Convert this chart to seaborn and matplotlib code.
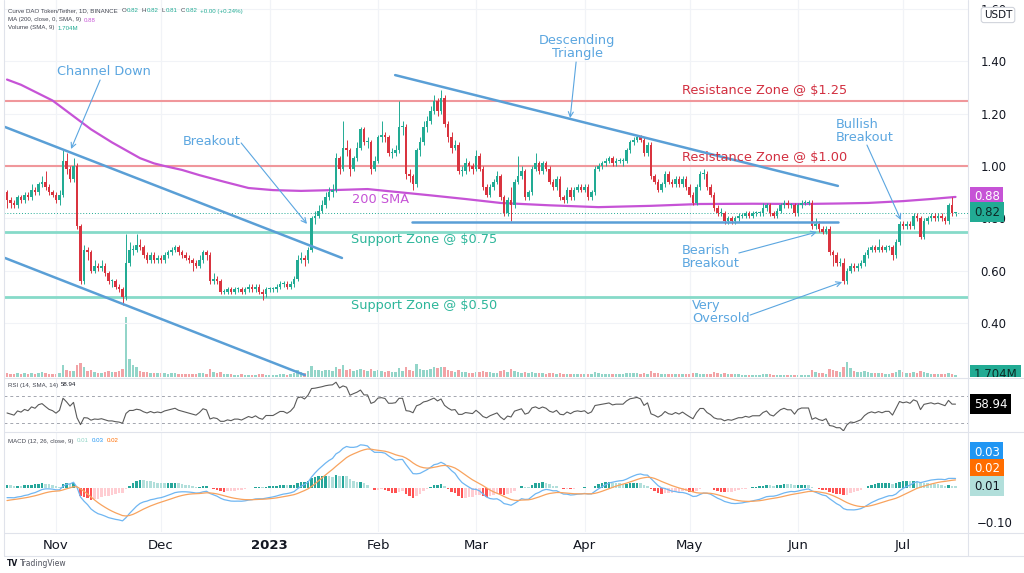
import numpy as np
import pandas as pd
import matplotlib
matplotlib.use("Agg")
import matplotlib.pyplot as plt
from matplotlib.lines import Line2D
import seaborn as sns

sns.set_theme(style="white")
plt.rcParams['font.family'] = ['DejaVu Sans']

# ---------------- data (daily candles, 18 Oct 2022 -> 16 Jul 2023) ----------------
first_open = 0.90
close = [
0.87,0.86,0.85,0.88,0.87,0.89,0.88,0.91,0.90,0.93,
0.94,0.92,0.90,0.89,0.87,0.89,1.02,0.99,0.95,1.00,
0.77,0.56,0.68,0.67,0.60,0.62,0.61,0.62,0.59,0.56,
0.56,0.54,0.53,0.50,0.63,0.68,0.68,0.70,0.69,0.66,
0.64,0.66,0.64,0.65,0.64,0.66,0.67,0.68,0.69,0.67,
0.66,0.65,0.64,0.63,0.62,0.64,0.67,0.66,0.56,0.57,
0.56,0.52,0.52,0.53,0.52,0.53,0.53,0.52,0.53,0.54,
0.53,0.54,0.52,0.51,0.53,0.53,0.53,0.54,0.55,0.55,
0.54,0.55,0.57,0.64,0.65,0.64,0.68,0.80,0.81,0.83,
0.85,0.88,0.90,0.91,1.03,0.99,1.07,1.06,0.99,1.03,
1.07,1.14,1.09,1.09,0.99,1.02,1.11,1.12,1.11,1.05,
1.05,1.06,1.15,1.15,0.97,0.96,0.93,1.06,1.09,1.15,
1.17,1.21,1.25,1.21,1.26,1.16,1.11,1.07,1.08,0.98,
0.98,1.01,1.00,0.99,1.04,0.99,0.92,0.89,0.92,0.94,
0.96,0.88,0.82,0.87,0.85,0.94,0.96,0.98,0.88,0.90,
0.99,1.01,0.98,1.01,0.99,0.94,0.92,0.95,0.88,0.87,
0.91,0.88,0.91,0.92,0.91,0.92,0.88,0.90,0.99,1.00,
1.01,1.02,1.03,1.01,1.02,1.02,1.02,1.06,1.09,1.10,
1.11,1.10,1.05,1.08,0.96,0.94,0.91,0.93,0.97,0.94,
0.93,0.95,0.93,0.95,0.92,0.89,0.86,0.92,0.97,0.97,
0.92,0.89,0.84,0.82,0.82,0.79,0.80,0.79,0.80,0.81,
0.81,0.82,0.81,0.82,0.82,0.82,0.84,0.85,0.82,0.81,
0.83,0.85,0.86,0.85,0.85,0.82,0.85,0.86,0.86,0.86,
0.77,0.78,0.76,0.75,0.76,0.67,0.66,0.63,0.63,0.56,
0.60,0.62,0.61,0.62,0.63,0.66,0.68,0.69,0.68,0.69,
0.68,0.69,0.69,0.66,0.71,0.78,0.77,0.78,0.77,0.81,
0.80,0.73,0.79,0.80,0.81,0.80,0.81,0.80,0.79,0.85,
0.82,0.82]
high = [
0.91,0.88,0.87,0.89,0.89,0.90,0.90,0.93,0.92,0.94,
0.96,0.98,0.93,0.91,0.90,0.91,1.06,1.05,1.00,1.03,
1.01,0.78,0.70,0.69,0.68,0.64,0.63,0.64,0.63,0.60,
0.57,0.57,0.55,0.54,0.74,0.71,0.70,0.74,0.72,0.70,
0.67,0.67,0.67,0.66,0.66,0.67,0.68,0.69,0.70,0.70,
0.68,0.67,0.66,0.65,0.64,0.66,0.68,0.68,0.67,0.59,
0.58,0.57,0.53,0.54,0.54,0.54,0.54,0.54,0.54,0.55,
0.55,0.55,0.55,0.53,0.54,0.54,0.54,0.55,0.56,0.56,
0.56,0.56,0.58,0.66,0.67,0.66,0.69,0.81,0.83,0.85,
0.87,0.90,0.92,0.93,1.05,1.04,1.17,1.10,1.07,1.04,
1.09,1.15,1.15,1.11,1.10,1.04,1.12,1.17,1.13,1.12,
1.07,1.08,1.25,1.17,1.16,0.99,0.97,1.07,1.11,1.17,
1.19,1.23,1.27,1.26,1.29,1.27,1.17,1.13,1.10,1.09,
1.00,1.03,1.02,1.01,1.06,1.05,1.00,0.93,0.93,0.95,
0.98,0.97,0.89,0.88,0.92,0.95,1.04,1.00,0.99,0.91,
1.00,1.05,1.02,1.02,1.02,1.00,0.95,0.96,0.96,0.89,
0.92,0.92,0.92,0.93,0.93,0.93,0.93,0.91,1.00,1.01,
1.02,1.03,1.04,1.04,1.03,1.03,1.03,1.07,1.10,1.11,
1.12,1.12,1.11,1.09,1.09,0.97,0.95,0.94,0.98,0.98,
0.95,0.96,0.96,0.96,0.96,0.93,0.90,0.93,0.98,0.99,
0.98,0.93,0.90,0.85,0.84,0.83,0.81,0.81,0.81,0.82,
0.82,0.83,0.83,0.83,0.83,0.83,0.86,0.86,0.86,0.83,
0.84,0.86,0.87,0.87,0.86,0.86,0.86,0.87,0.87,0.87,
0.87,0.80,0.79,0.77,0.77,0.77,0.68,0.67,0.65,0.65,
0.61,0.63,0.63,0.63,0.64,0.67,0.69,0.70,0.70,0.72,
0.70,0.70,0.70,0.70,0.72,0.79,0.79,0.79,0.79,0.82,
0.82,0.81,0.80,0.81,0.82,0.82,0.82,0.82,0.81,0.86,
0.88,0.82]
low = [
0.84,0.84,0.84,0.84,0.86,0.86,0.87,0.87,0.89,0.89,
0.92,0.91,0.89,0.88,0.86,0.85,0.88,0.97,0.94,0.94,
0.76,0.55,0.55,0.64,0.59,0.59,0.60,0.60,0.58,0.55,
0.54,0.53,0.52,0.47,0.49,0.62,0.66,0.67,0.68,0.65,
0.63,0.63,0.63,0.63,0.63,0.63,0.65,0.66,0.67,0.66,
0.65,0.64,0.63,0.60,0.61,0.61,0.63,0.64,0.55,0.55,
0.55,0.51,0.51,0.51,0.51,0.51,0.52,0.51,0.51,0.52,
0.52,0.52,0.51,0.49,0.50,0.52,0.52,0.52,0.53,0.54,
0.53,0.53,0.54,0.56,0.63,0.62,0.63,0.67,0.78,0.80,
0.82,0.84,0.87,0.88,0.90,0.97,0.98,1.04,0.96,0.98,
1.02,1.06,1.08,1.07,0.97,0.98,1.01,1.09,1.09,1.04,
1.03,1.04,1.05,1.12,0.95,0.94,0.91,0.92,1.04,1.08,
1.13,1.16,1.20,1.19,1.20,1.15,1.09,1.05,1.06,0.97,
0.96,0.97,0.98,0.97,0.98,0.98,0.91,0.88,0.88,0.91,
0.93,0.87,0.81,0.81,0.79,0.84,0.93,0.95,0.87,0.87,
0.89,0.98,0.97,0.97,0.98,0.93,0.91,0.91,0.87,0.86,
0.86,0.87,0.87,0.90,0.90,0.90,0.87,0.87,0.89,0.98,
0.99,1.00,1.01,1.00,1.00,1.01,1.00,1.01,1.05,1.08,
1.09,1.09,1.04,1.04,0.95,0.93,0.90,0.90,0.92,0.93,
0.92,0.92,0.92,0.92,0.91,0.88,0.85,0.85,0.91,0.95,
0.91,0.88,0.83,0.81,0.81,0.78,0.78,0.78,0.78,0.79,
0.80,0.80,0.80,0.80,0.81,0.81,0.81,0.83,0.81,0.80,
0.80,0.82,0.84,0.84,0.84,0.81,0.81,0.84,0.85,0.85,
0.76,0.76,0.75,0.74,0.74,0.66,0.62,0.62,0.62,0.55,
0.55,0.59,0.60,0.60,0.61,0.62,0.65,0.67,0.67,0.67,
0.67,0.67,0.68,0.64,0.65,0.70,0.76,0.76,0.76,0.76,
0.79,0.72,0.72,0.78,0.79,0.79,0.79,0.79,0.78,0.78,
0.81,0.81]
volume = [
4,3,3,4,3,4,3,4,3,4,
5,4,3,3,3,4,12,7,6,6,
12,14,10,6,7,5,4,4,5,6,
5,5,6,8,60,18,12,10,6,5,
5,4,4,4,4,4,3,4,4,3,
3,3,3,3,3,4,4,3,8,5,
4,5,3,3,3,2,2,3,2,2,
2,2,3,3,2,2,2,2,3,3,
2,3,4,7,5,4,6,11,7,7,
6,7,7,6,10,8,12,7,8,6,
7,8,7,6,8,6,7,6,5,6,
5,5,9,6,10,7,6,13,8,7,
7,8,10,9,10,10,7,6,5,7,
5,5,4,4,5,5,6,5,5,4,
4,6,7,5,8,6,5,4,5,4,
5,4,4,4,3,4,4,3,4,3,
3,3,3,3,3,3,3,3,5,4,
3,3,3,3,3,3,3,4,4,4,
4,3,4,3,6,4,4,3,3,3,
3,3,3,3,3,3,4,4,3,3,
3,3,5,4,3,4,3,3,3,3,
2,2,2,2,2,2,3,3,3,2,
2,2,2,2,2,2,2,2,2,2,
7,5,4,4,3,8,7,6,5,10,
15,9,6,5,5,6,5,4,4,4,
4,3,3,4,5,7,5,4,4,5,
4,6,5,4,3,3,3,3,3,4,
3,1.7]
sma_idx = [0, 4, 7, 10, 13, 16, 20, 24, 27, 30, 34, 38, 42, 45, 50, 55, 62, 69, 76, 84, 93,
           103, 112, 121, 131, 141, 155, 169, 184, 198, 213, 227, 238, 246, 256, 264, 271]
sma_val = [1.33, 1.31, 1.29, 1.27, 1.25, 1.22, 1.18, 1.14, 1.115, 1.09, 1.06, 1.03, 1.01, 1.00,
           0.985, 0.965, 0.94, 0.916, 0.908, 0.905, 0.908, 0.912, 0.90, 0.888, 0.874, 0.859,
           0.85, 0.843, 0.848, 0.855, 0.856, 0.855, 0.857, 0.859, 0.866, 0.874, 0.882]
month_pos = [14, 44, 75, 106, 134, 165, 195, 226, 256]
month_lab = ['Nov', 'Dec', '2023', 'Feb', 'Mar', 'Apr', 'May', 'Jun', 'Jul']
price_ticks = [0.4, 0.6, 0.8, 1.0, 1.2, 1.4, 1.6]
resistance = [1.25, 1.00]
support = [0.75, 0.50]
# indicator starting states (values before the first visible bar)
rsi_init = (0.010, 0.010)
macd_init = (0.89, 0.92, -0.04)

n = len(close)
assert len(high) == n and len(low) == n and len(volume) == n, (n, len(high), len(low), len(volume))

c = np.array(close, float)
o = np.r_[first_open, c[:-1]]
x = np.arange(n)

# RSI (14, Wilder)
ag, al = rsi_init
rsi = []
for d in np.diff(np.r_[first_open, c]):
    ag = (ag * 13 + max(d, 0)) / 14
    al = (al * 13 + max(-d, 0)) / 14
    rsi.append(100 - 100 / (1 + ag / al))
rsi = np.array(rsi)

# MACD (12, 26, 9)
e12, e26, sg = macd_init
macd, sig = [], []
for v in c:
    e12 += 2 / 13 * (v - e12)
    e26 += 2 / 27 * (v - e26)
    m = e12 - e26
    sg += 2 / 10 * (m - sg)
    macd.append(m); sig.append(sg)
macd = np.array(macd); sig = np.array(sig)
hist = macd - sig
prev = np.r_[hist[0], hist[:-1]]
hcol = np.where(hist >= 0, np.where(hist >= prev, '#26a69a', '#b2dfdb'),
                np.where(hist <= prev, '#ff5252', '#ffcdd2'))

df = pd.DataFrame({'i': x, 'rsi': rsi, 'macd': macd, 'signal': sig})
sma_df = pd.DataFrame({'i': sma_idx, 'sma': sma_val})

# ---------------- figure ----------------
W, H = 1024, 573
fig = plt.figure(figsize=(W / 100, H / 100), dpi=100)
fig.patch.set_facecolor('white')

def fx(px): return px / W
def fy(py): return 1 - py / H

L, R = 4, 968
ax_v = fig.add_axes([fx(L), fy(377), (R - L) / W, 377 / H])
ax_p = fig.add_axes([fx(L), fy(377), (R - L) / W, 377 / H], sharex=ax_v)
ax_p.patch.set_visible(False)
ax_r = fig.add_axes([fx(L), fy(431), (R - L) / W, 53 / H], sharex=ax_v)
ax_m = fig.add_axes([fx(L), fy(532), (R - L) / W, 100 / H], sharex=ax_v)

GREEN, RED = '#22ab94', '#d9343f'
TXT_BLUE = '#5ba6e0'
LINE_BLUE = '#5a9fd6'
MAG = '#c653d6'
TEAL_TXT = '#2db69a'
RED_TXT = '#d22f40'
GRID = '#f1f3f7'

ax_v.set_xlim(-0.86, 274.57)
for a in (ax_v, ax_p, ax_r, ax_m):
    for s in a.spines.values():
        s.set_visible(False)
    a.set_xticks(month_pos)
    a.tick_params(axis='x', length=0, labelbottom=False)
    a.grid(axis='x', color=GRID, lw=0.8)
    a.grid(axis='y', visible=False)

# volume (bottom of price pane)
vcol = np.where(c >= o, '#93d5c9', '#f2a3a6')
ax_v.bar(x, volume, width=0.75, color=vcol, linewidth=0)
ax_v.set_ylim(0, 377)
ax_v.set_yticks([])

# price pane
ax_p.set_ylim(0.1947, 1.6336)
ax_p.yaxis.tick_right()
ax_p.set_yticks(price_ticks)
ax_p.set_yticklabels([f'{t:.2f}' for t in price_ticks])
ax_p.tick_params(axis='y', length=0, pad=9, labelsize=8.5, labelcolor='#131722')
ax_p.grid(axis='y', color=GRID, lw=0.8)

for lv in resistance:
    ax_p.axhline(lv, color='#f0979b', lw=1.5, zorder=1)
for lv in support:
    ax_p.axhline(lv, color='#86dac9', lw=2.0, zorder=1)
ax_p.axhline(c[-1], color='#22ab94', lw=0.7, ls=(0, (1, 2)), zorder=1)

sns.lineplot(data=sma_df, x='i', y='sma', ax=ax_p, color=MAG, linewidth=1.6, zorder=2)

up = c >= o
col = np.where(up, GREEN, RED)
ax_p.vlines(x, low, high, colors=col, lw=0.7, zorder=3)
ax_p.bar(x, np.maximum(np.abs(c - o), 0.004), bottom=np.minimum(o, c), width=0.72,
         color=col, linewidth=0, zorder=4)

# drawings (trend lines)
ax_p.plot([-0.6, 95.7], [1.149, 0.649], color=LINE_BLUE, lw=1.8, zorder=5)
ax_p.plot([-0.6, 85.1], [0.649, 0.202], color=LINE_BLUE, lw=1.8, zorder=5)
ax_p.plot([110.9, 237.4], [1.347, 0.924], color=LINE_BLUE, lw=1.8, zorder=5)
ax_p.plot([115.7, 237.4], [0.786, 0.786], color=LINE_BLUE, lw=1.8, zorder=5)

tfs = 9.3
def label(xi, p, s, color, ha='left'):
    ax_p.text(xi, p, s, color=color, fontsize=tfs, ha=ha, va='center', zorder=6,
              linespacing=1.0, multialignment=ha if ha != 'center' else 'center')

def arrow(x0, y0, x1, y1):
    ax_p.annotate('', xy=(x1, y1), xytext=(x0, y0),
                  arrowprops=dict(arrowstyle='->', color=TXT_BLUE, lw=0.8,
                                  shrinkA=0, shrinkB=0, mutation_scale=9), zorder=6)

label(27.7, 1.359, 'Channel Down', TXT_BLUE, 'center')
arrow(26.6, 1.328, 18.3, 1.065)
label(58.6, 1.095, 'Breakout', TXT_BLUE, 'center')
arrow(66.9, 1.088, 85.7, 0.779)
label(162.9, 1.454, 'Descending\nTriangle', TXT_BLUE, 'center')
arrow(162.6, 1.397, 160.9, 1.183)
label(192.9, 1.290, 'Resistance Zone @ $1.25', RED_TXT)
label(192.9, 1.031, 'Resistance Zone @ $1.00', RED_TXT)
label(98.6, 0.874, '200 SMA', MAG)
label(98.3, 0.718, 'Support Zone @ $0.75', TEAL_TXT)
label(98.3, 0.466, 'Support Zone @ $0.50', TEAL_TXT)
label(192.9, 0.653, 'Bearish\nBreakout', TXT_BLUE)
arrow(209.1, 0.668, 231.4, 0.748)
label(195.7, 0.443, 'Very\nOversold', TXT_BLUE)
arrow(212.3, 0.431, 238.6, 0.557)
label(236.9, 1.134, 'Bullish\nBreakout', TXT_BLUE)
arrow(245.7, 1.080, 255.4, 0.794)
ax_p.set_xlabel(''); ax_p.set_ylabel('')

# RSI pane
ax_r.set_ylim(18.1, 96.7)
ax_r.set_yticks([])
for lv in (70, 30):
    ax_r.axhline(lv, color='#a3a6af', lw=0.7, ls=(0, (3, 3)))
sns.lineplot(data=df, x='i', y='rsi', ax=ax_r, color='#5a5a5a', linewidth=0.8)
ax_r.set_xlabel(''); ax_r.set_ylabel('')

# MACD pane
ax_m.set_ylim(-0.130, 0.163)
ax_m.bar(x, hist, width=0.75, color=hcol, linewidth=0)
sns.lineplot(data=df, x='i', y='macd', ax=ax_m, color='#6fb6f2', linewidth=0.9)
sns.lineplot(data=df, x='i', y='signal', ax=ax_m, color='#f8a35e', linewidth=0.9)
ax_m.set_xlabel(''); ax_m.set_ylabel('')
ax_m.yaxis.tick_right()
ax_m.set_yticks([-0.10])
ax_m.set_yticklabels(['\u22120.10'])
ax_m.tick_params(axis='y', length=0, pad=6, labelsize=8.5, labelcolor='#131722')
ax_m.set_xticklabels(month_lab)
ax_m.tick_params(axis='x', labelbottom=True, pad=5, labelsize=9.5, labelcolor='#131722')
for t in ax_m.get_xticklabels():
    if t.get_text() == '2023':
        t.set_fontweight('bold')

# separators
sep = '#e0e3eb'
for yy in (377.5, 431.5, 532.5, 556):
    fig.add_artist(Line2D([fx(4), fx(1024)], [fy(yy)] * 2, color=sep, lw=0.8))
fig.add_artist(Line2D([fx(968), fx(968)], [fy(0), fy(556)], color=sep, lw=0.8))
fig.add_artist(Line2D([fx(4), fx(4)], [fy(0), fy(556)], color=sep, lw=0.8))

# right-scale value boxes
def box(xp, yp, s, fc, tc='white', fs=8.5):
    fig.text(fx(xp), fy(yp), s, color=tc, fontsize=fs, ha='left', va='center',
             bbox=dict(boxstyle='square,pad=0.3', fc=fc, ec='none'))

box(974, 197, '0.88', MAG)
box(974, 212, '0.82', '#22ab94', tc='#0d2a26')
box(974, 404, '58.94', '#000000')
box(974, 452, '0.03', '#2196f3')
box(974, 469, '0.02', '#ff6d00')
box(974, 486, '0.01', '#b2dfdb', tc='#131722')
fig.text(fx(998), fy(15), 'USDT', fontsize=7.5, color='#131722', ha='center', va='center',
         bbox=dict(boxstyle='round,pad=0.25', fc='white', ec='#d1d4dc', lw=0.8))

ax_sc = fig.add_axes([fx(968), fy(377), (W - 968) / W, 377 / H])
ax_sc.axis('off')
ax_sc.text(6 / 56, 1 - 375 / 377, '1.704M', transform=ax_sc.transAxes, color='#0d2a26',
           fontsize=8.5, ha='left', va='center', clip_on=True,
           bbox=dict(boxstyle='square,pad=0.3', fc='#22ab94', ec='none'))

# top-left legends (pieces placed one after another)
renderer = fig.canvas.get_renderer()
lf = dict(fontsize=4.4, va='center', family=['Liberation Sans', 'DejaVu Sans'])
gray = '#434651'

def seq(xp, yp, parts):
    cur = xp
    for s, cl, gap in parts:
        t = fig.text(fx(cur), fy(yp), s, color=cl, **lf)
        cur += t.get_window_extent(renderer).width + gap

seq(8, 11, [('Curve DAO Token/Tether, 1D, BINANCE', gray, 4),
            ('O', gray, 0.5), ('0.82', GREEN, 3), ('H', gray, 0.5), ('0.82', GREEN, 3),
            ('L', gray, 0.5), ('0.81', GREEN, 3), ('C', gray, 0.5), ('0.82', GREEN, 3),
            ('+0.00 (+0.24%)', GREEN, 0)])
seq(8, 20, [('MA (200, close, 0, SMA, 9)', gray, 3), ('0.88', MAG, 0)])
seq(8, 28, [('Volume (SMA, 9)', gray, 3), ('1.704M', GREEN, 0)])
seq(8, 385, [('RSI (14, SMA, 14)', gray, 3), ('58.94', '#131722', 0)])
seq(8, 441, [('MACD (12, 26, close, 9)', gray, 3), ('0.01', '#8fd3c6', 3),
             ('0.03', '#2196f3', 3), ('0.02', '#ff6d00', 0)])

fig.text(fx(7), fy(564), 'TV', fontsize=5.5, fontweight='bold', color='#131722', va='center')
fig.text(fx(20), fy(564), 'TradingView', fontsize=5.5, color='#50535e', va='center')

fig.savefig('out.png', dpi=100, facecolor='white')
